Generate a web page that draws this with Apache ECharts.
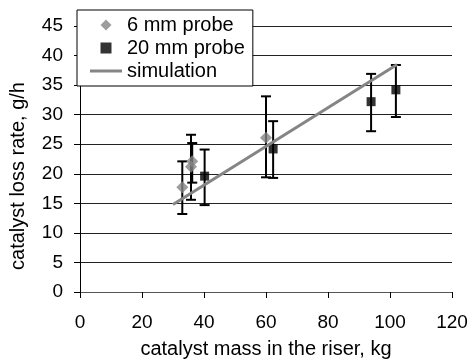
<!DOCTYPE html>
<html>
<head>
<meta charset="utf-8">
<script src="https://cdn.jsdelivr.net/npm/echarts@6/dist/echarts.min.js"></script>
<style>
  html, body { margin: 0; padding: 0; background: #fff; }
  #chart { width: 472px; height: 364px; }
</style>
</head>
<body>
<div id="chart"></div>
<script>
// 6 mm probe points
var probe6X = [33, 35.8, 36.2, 60];
var probe6Y = [17.7, 21.2, 22.1, 26.1];
var probe6Low = [13.2, 15.6, 18.5, 19.4];
var probe6High = [22.1, 26.6, 25.2, 33.1];

// 20 mm probe points
var probe20X = [40.2, 62.3, 93.9, 101.9];
var probe20Y = [19.6, 24.2, 32.2, 34.2];
var probe20Low = [14.7, 19.3, 27.2, 29.6];
var probe20High = [24.1, 28.9, 36.9, 38.4];

// simulation line
var simX = [30, 102.3];
var simY = [14.8, 38.5];

var FONT = 'Liberation Sans, Arial, sans-serif';

function pairs(xs, ys) {
    return xs.map(function (x, i) { return [x, ys[i]]; });
}
function errData(xs, lo, hi) {
    return xs.map(function (x, i) { return [x, lo[i], hi[i]]; });
}

// error bars drawn through the axes
function renderErr(params, api) {
    var x = api.value(0);
    var lo = api.coord([x, api.value(1)]);
    var hi = api.coord([x, api.value(2)]);
    var w = 5;
    var st = { stroke: '#000', lineWidth: 2 };
    return {
        type: 'group',
        children: [
            { type: 'line', shape: { x1: lo[0], y1: lo[1], x2: hi[0], y2: hi[1] }, style: st },
            { type: 'line', shape: { x1: hi[0] - w, y1: hi[1], x2: hi[0] + w, y2: hi[1] }, style: st },
            { type: 'line', shape: { x1: lo[0] - w, y1: lo[1], x2: lo[0] + w, y2: lo[1] }, style: st }
        ]
    };
}

var chart = echarts.init(document.getElementById('chart'));

var option = {
    backgroundColor: '#fff',
    animation: false,
    grid: { left: 77, right: 20, top: 26, bottom: 68 },
    legend: {
        orient: 'vertical',
        left: 77,
        top: 10,
        padding: [5, 8, 5, 13],
        itemGap: 3,
        itemWidth: 32,
        itemHeight: 11,
        symbolKeepAspect: true,
        backgroundColor: '#fff',
        borderColor: '#000',
        borderWidth: 1,
        textStyle: { fontFamily: FONT, fontSize: 20, color: '#000' },
        data: [
            { name: '6 mm probe', icon: 'path://M5,0L10,5L5,10L0,5Z' },
            { name: '20 mm probe', icon: 'path://M0,0H10V10H0Z' },
            { name: 'simulation', icon: 'path://M0,0H32V3H0Z' }
        ]
    },
    xAxis: {
        type: 'value',
        min: 0, max: 120, interval: 20,
        name: 'catalyst mass in the riser, kg',
        nameLocation: 'middle',
        nameGap: 47,
        nameTextStyle: { fontFamily: FONT, fontSize: 20, color: '#000' },
        axisLine: { lineStyle: { color: '#555', width: 1 } },
        axisTick: { length: 6, lineStyle: { color: '#000' } },
        axisLabel: { margin: 21, fontFamily: FONT, fontSize: 19, color: '#000' },
        splitLine: { show: false }
    },
    yAxis: {
        type: 'value',
        min: 0, max: 45, interval: 5,
        name: 'catalyst loss rate, g/h',
        nameLocation: 'middle',
        nameGap: 52,
        nameTextStyle: { fontFamily: FONT, fontSize: 20, color: '#000', padding: [0, 34, 0, 0] },
        axisLine: { show: true, lineStyle: { color: '#000', width: 1 } },
        axisTick: { show: true, length: 6, lineStyle: { color: '#000' } },
        axisLabel: { margin: 17, fontFamily: FONT, fontSize: 19, color: '#000' },
        splitLine: { lineStyle: { color: '#222', width: 1 } }
    },
    series: [
        {
            name: '6 mm probe err',
            type: 'custom',
            renderItem: renderErr,
            data: errData(probe6X, probe6Low, probe6High),
            z: 2,
            silent: true
        },
        {
            name: '20 mm probe err',
            type: 'custom',
            renderItem: renderErr,
            data: errData(probe20X, probe20Low, probe20High),
            z: 2,
            silent: true
        },
        {
            name: '6 mm probe',
            type: 'scatter',
            symbol: 'diamond',
            symbolSize: 12,
            itemStyle: { color: '#858585' },
            data: pairs(probe6X, probe6Y),
            z: 3
        },
        {
            name: '20 mm probe',
            type: 'scatter',
            symbol: 'rect',
            symbolSize: 9,
            itemStyle: { color: '#000' },
            data: pairs(probe20X, probe20Y),
            z: 4
        },
        {
            name: 'simulation',
            type: 'line',
            symbol: 'none',
            lineStyle: { color: '#858585', width: 3 },
            itemStyle: { color: '#858585' },
            data: pairs(simX, simY),
            z: 5
        }
    ]
};

chart.setOption(option);
</script>
</body>
</html>
